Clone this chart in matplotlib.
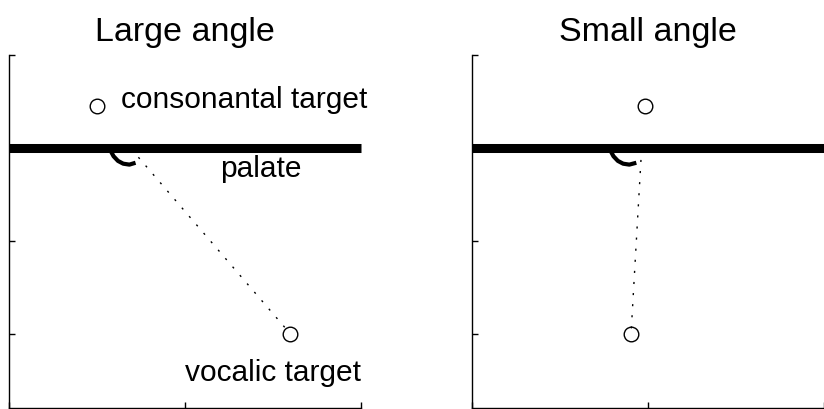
import matplotlib.pyplot as plt

plt.rcParams['font.family'] = ['Liberation Sans', 'DejaVu Sans']

# panel data (units: palate at y = 0)
titles = ["Large angle", "Small angle"]
cons_x = [-1.0, -0.03]
cons_y = [0.45, 0.45]
vowel_x = [1.2, -0.19]
vowel_y = [-2.0, -2.0]
contact_x = [-0.61, -0.07]
contact_y = [-0.01, -0.01]
hook_x = [[-0.85, -0.81, -0.76, -0.70, -0.63, -0.56],
          [-0.43, -0.39, -0.34, -0.28, -0.21, -0.13]]
hook_y = [[-0.02, -0.09, -0.14, -0.17, -0.18, -0.16],
          [-0.02, -0.09, -0.14, -0.17, -0.18, -0.16]]
palate_x = [-2, 2]
palate_y = [0, 0]

fig = plt.figure(figsize=(8.24, 4.09), dpi=100)
lefts = [9 / 824, 472 / 824]
axes = []
for i in range(2):
    ax = fig.add_axes([lefts[i], 1 / 409, 351.5 / 824, 353 / 409])
    axes.append(ax)

    ax.plot(palate_x, palate_y, color='black', lw=6.5, solid_capstyle='butt', clip_on=False)
    ax.plot(hook_x[i], hook_y[i], color='black', lw=3, solid_capstyle='butt')
    ax.plot([contact_x[i], vowel_x[i]], [contact_y[i], vowel_y[i]], color='black',
            lw=1, linestyle=(0, (1.5, 6.5)))
    ax.plot(cons_x[i], cons_y[i], 'o', ms=10.5, mfc='white', mec='black', mew=1)
    ax.plot(vowel_x[i], vowel_y[i], 'o', ms=10.5, mfc='none', mec='black', mew=1)

    ax.set_xlim(-2, 2)
    ax.set_ylim(-2.8, 1)
    ax.set_xticks([-2, 0, 2])
    ax.set_yticks([-2, -1, 0, 1])
    ax.set_xticklabels([])
    ax.set_yticklabels([])
    ax.tick_params(direction='in', length=4, width=1)
    ax.spines['top'].set_visible(False)
    ax.spines['right'].set_visible(False)
    ax.spines['left'].set_linewidth(1)
    ax.spines['bottom'].set_linewidth(1)
    ax.set_title(titles[i], fontsize=24.5, pad=10)

# labels (only on the left panel)
axes[0].text(-0.72, 0.43, "consonantal target", fontsize=21.5, va='baseline', ha='left', clip_on=False)
axes[0].text(0.40, -0.31, "palate", fontsize=21.5, va='baseline', ha='left')
axes[0].text(0.0, -2.51, "vocalic target", fontsize=21.5, va='baseline', ha='left')

fig.savefig("out.png", dpi=100)
